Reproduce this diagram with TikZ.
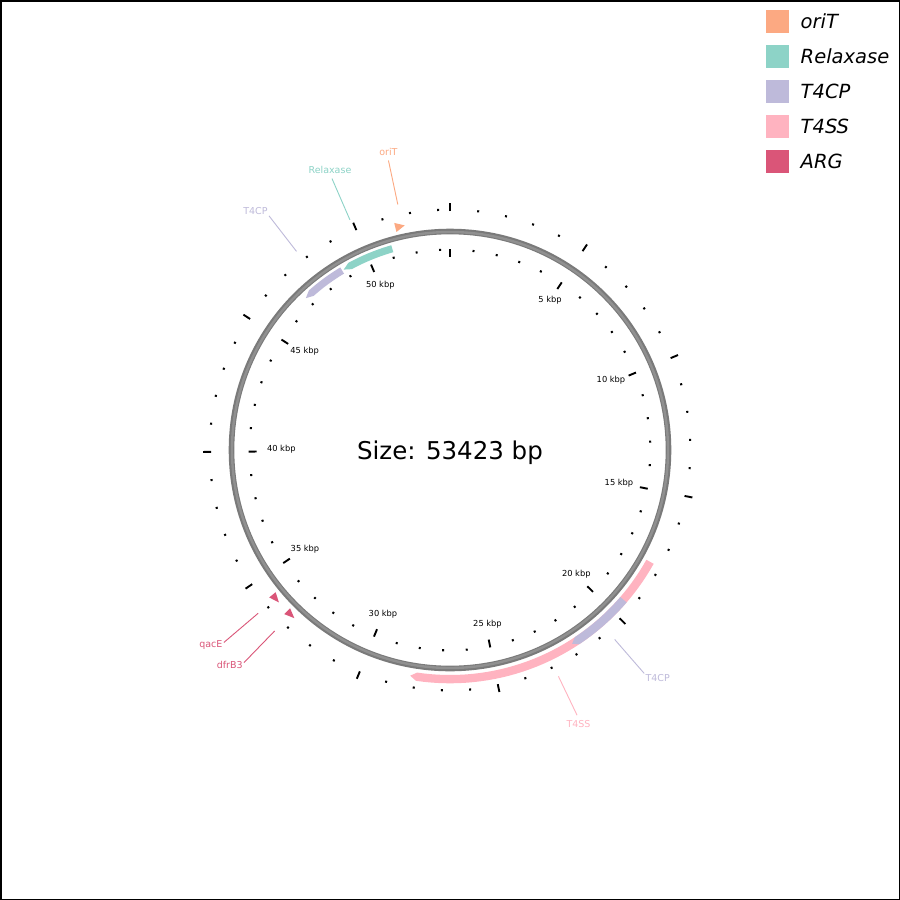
\documentclass[tikz,border=0pt]{standalone}
\usepackage{fontspec}
\setmainfont{DejaVu Sans}
\definecolor{cOriT}{HTML}{FCA982}
\definecolor{cRel}{HTML}{8DD3C7}
\definecolor{cTfcp}{HTML}{BEBADA}
\definecolor{cTfss}{HTML}{FFB3C0}
\definecolor{cArg}{HTML}{DA5578}
\definecolor{cRingA}{HTML}{7A7A7A}
\definecolor{cRingB}{HTML}{909090}
% #1 start angle, #2 head base, #3 tip, #4 r in, #5 r out, #6 colour
\newcommand{\arrowfeat}[6]{%
  \fill[#6] plot[domain=#1:#2,samples=40,variable=\t] ({\t-90}:#5)
    -- ({#3-90}:{(#4+#5)/2})
    -- plot[domain=#2:#1,samples=40,variable=\t] ({\t-90}:#4) -- cycle;}
% #1 base angle, #2 tip angle, #3 r in, #4 r out, #5 colour
\newcommand{\trifeat}[5]{%
  \fill[#5] ({#1-90}:#4) -- ({#2-90}:{(#3+#4)/2}) -- ({#1-90}:#3) -- cycle;}
\tikzset{
  tickmaj/.style={line width=1.9pt, black},
  tickmin/.style={line width=2pt, black},
  ticklab/.style={font=\fontsize{8.3}{10}\selectfont, inner sep=0pt},
  flab/.style={font=\fontsize{9.5}{11}\selectfont, inner sep=1.2pt},
  fline/.style={line width=0.9pt},
  legtext/.style={font=\fontsize{19.5}{22}\selectfont\itshape, inner sep=0pt, anchor=base west},
}
\begin{document}
\begin{tikzpicture}[x=1pt,y=-1pt]
\useasboundingbox (0,0) rectangle (900,900);
\fill[white] (0,0) rectangle (900,900);
\draw[line width=1.5pt] (0.75,0.75) rectangle (899.25,899.25);

\begin{scope}[shift={(450,450)}]
  % ticks
  \foreach \i in {0,...,53}{
    \pgfmathsetmacro\th{\i*6.73867-90}
    \pgfmathtruncatemacro\m{mod(\i,5)}
    \ifnum\m=0
      \draw[tickmaj] (\th:193.5) -- (\th:201.5);
      \draw[tickmaj] (\th:239) -- (\th:247);
    \else
      \draw[tickmin] (\th:199.3) -- (\th:201.4);
      \draw[tickmin] (\th:239.3) -- (\th:241.4);
    \fi
  }
  % ring
  \draw[cRingA, line width=5.6pt] (0,0) circle[radius=218.5pt];
  \draw[cRingB, line width=2.4pt] (0,0) circle[radius=218pt];

  % features
  \arrowfeat{119.2}{188.4}{190}{225}{233.3}{cTfss}
  \arrowfeat{130.8}{146.3}{147.8}{225}{233.3}{cTfcp}
  \arrowfeat{344}{331.5}{329.5}{205.8}{213}{cRel}
  \arrowfeat{329}{318.5}{316.5}{205.8}{213}{cTfcp}
  \trifeat{346.2}{348.6}{224.5}{233.8}{cOriT}
  \trifeat{230.8}{228.3}{225}{233.3}{cArg}
  \trifeat{225.3}{222.8}{225}{233.3}{cArg}

  % feature labels
  \coordinate (oriTa) at (258:251); \coordinate (oriTb) at (258:296);
  \draw[fline, cOriT] (oriTa) -- (oriTb);
  \node[flab, cOriT, anchor=south, yshift=3.5pt] (oriTlab) at (oriTb) {oriT};

  \coordinate (rela) at (246.5:251); \coordinate (relb) at (246.5:296);
  \draw[fline, cRel] (rela) -- (relb);
  \node[flab, cRel, anchor=south, xshift=-2pt, yshift=3.5pt] (rellab) at (relb) {Relaxase};

  \coordinate (tcpAa) at (232.3:251); \coordinate (tcpAb) at (232.3:296);
  \draw[fline, cTfcp] (tcpAa) -- (tcpAb);
  \node[flab, cTfcp, anchor=south east, yshift=-0.5pt] (tcpAlab) at (tcpAb) {T4CP};

  \coordinate (tcpBa) at (49:251); \coordinate (tcpBb) at (49:296);
  \draw[fline, cTfcp] (tcpBa) -- (tcpBb);
  \node[flab, cTfcp, anchor=north west, yshift=0.5pt] (tcpBlab) at (tcpBb) {T4CP};

  \coordinate (tssa) at (64.4:251); \coordinate (tssb) at (64.4:294);
  \draw[fline, cTfss] (tssa) -- (tssb);
  \node[flab, cTfss, anchor=north, xshift=1.5pt, yshift=-3.5pt] (tsslab) at (tssb) {T4SS};

  \coordinate (qaca) at (139.6:252); \coordinate (qacb) at (139.6:297);
  \draw[fline, cArg] (qaca) -- (qacb);
  \node[flab, cArg, anchor=east, yshift=-2.5pt] (qaclab) at (qacb) {qacE};

  \coordinate (dfra) at (134.1:252); \coordinate (dfrb) at (134.1:296);
  \draw[fline, cArg] (dfra) -- (dfrb);
  \node[flab, cArg, anchor=east, yshift=-2.5pt] (dfrlab) at (dfrb) {dfrB3};

  % centre text
  \node[font=\fontsize{24.5}{28}\selectfont, yshift=-2.5pt] (size) at (0,0) {Size: 53423 bp};
\end{scope}

% tick labels
\node[ticklab] (k5) at (550,300) {5 kbp};
\node[ticklab] (k10) at (611,380) {10 kbp};
\node[ticklab] (k15) at (619,483) {15 kbp};
\node[ticklab] (k20) at (576.3,574.7) {20 kbp};
\node[ticklab] (k25) at (487.5,624.5) {25 kbp};
\node[ticklab] (k30) at (383,614) {30 kbp};
\node[ticklab] (k35) at (305,549) {35 kbp};
\node[ticklab] (k40) at (281.3,449.7) {40 kbp};
\node[ticklab] (k45) at (304.7,351.3) {45 kbp};
\node[ticklab] (k50) at (380.3,285.5) {50 kbp};

% legend
\foreach \c/\t/\n [count=\k from 0] in {cOriT/oriT/lOriT, cRel/Relaxase/lRel, cTfcp/T4CP/lTcp, cTfss/T4SS/lTss, cArg/ARG/lArg}{
  \pgfmathsetmacro\yy{10+35*\k}
  \fill[\c] (766,\yy) rectangle (789,\yy+23);
  \node[legtext] (\n) at (800.5,\yy+18.5) {\t};
}
\end{tikzpicture}
\end{document}
